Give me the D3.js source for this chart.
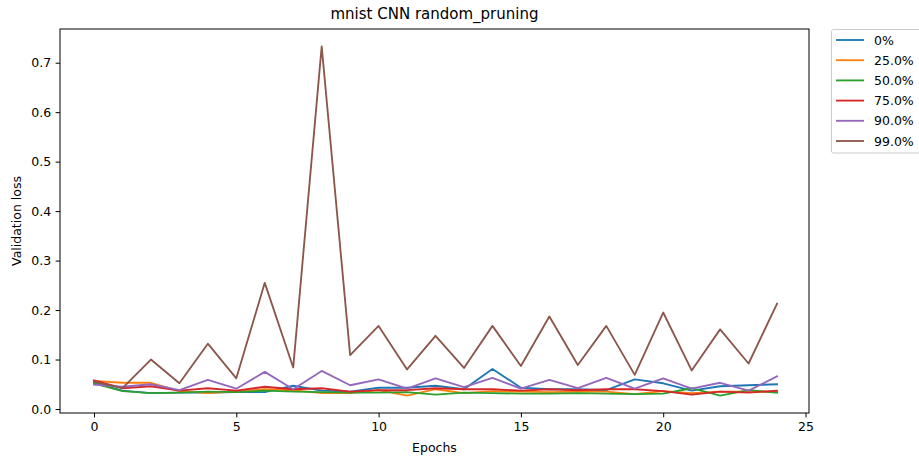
<!DOCTYPE html>
<html>
<head>
<meta charset="utf-8">
<script src="https://cdn.jsdelivr.net/npm/d3@7"></script>
<style>
  body { margin: 0; background: #fff; }
  svg { display: block; font-family: "DejaVu Sans", sans-serif; }
</style>
</head>
<body>
<svg id="chart" width="919" height="458"></svg>
<script>
const epochs = d3.range(25);
const seriesNames = ["0%", "25.0%", "50.0%", "75.0%", "90.0%", "99.0%"];
const seriesColors = ["#1f77b4", "#ff7f0e", "#2ca02c", "#d62728", "#9467bd", "#8c564b"];

const loss0 = [0.053, 0.037, 0.032, 0.033, 0.033, 0.034, 0.034, 0.047, 0.037, 0.035, 0.043, 0.043, 0.047, 0.040, 0.081, 0.043, 0.040, 0.040, 0.038, 0.060, 0.052, 0.037, 0.046, 0.048, 0.050];
const loss25 = [0.057, 0.053, 0.053, 0.036, 0.032, 0.035, 0.040, 0.038, 0.032, 0.032, 0.038, 0.027, 0.040, 0.032, 0.036, 0.035, 0.034, 0.035, 0.035, 0.030, 0.036, 0.032, 0.035, 0.035, 0.035];
const loss50 = [0.052, 0.036, 0.032, 0.033, 0.035, 0.034, 0.037, 0.035, 0.034, 0.033, 0.033, 0.034, 0.029, 0.033, 0.032, 0.031, 0.031, 0.032, 0.031, 0.030, 0.031, 0.042, 0.027, 0.038, 0.033];
const loss75 = [0.058, 0.042, 0.046, 0.037, 0.042, 0.037, 0.045, 0.040, 0.042, 0.035, 0.038, 0.038, 0.042, 0.040, 0.040, 0.037, 0.040, 0.038, 0.040, 0.040, 0.036, 0.029, 0.035, 0.033, 0.037];
const loss90 = [0.049, 0.045, 0.050, 0.038, 0.059, 0.041, 0.075, 0.040, 0.077, 0.048, 0.060, 0.041, 0.062, 0.044, 0.063, 0.041, 0.059, 0.042, 0.063, 0.041, 0.062, 0.041, 0.053, 0.037, 0.066];
const loss99 = [0.055, 0.042, 0.100, 0.052, 0.132, 0.062, 0.255, 0.084, 0.733, 0.109, 0.168, 0.080, 0.148, 0.083, 0.168, 0.087, 0.187, 0.089, 0.168, 0.069, 0.195, 0.078, 0.161, 0.092, 0.213];

const xTicks = [0, 5, 10, 15, 20, 25];
const yTicks = [0.0, 0.1, 0.2, 0.3, 0.4, 0.5, 0.6, 0.7];

const allSeries = [loss0, loss25, loss50, loss75, loss90, loss99];

(function () {
const svg = d3.select("#chart");
const pL = 60, pR = 809, pT = 29, pB = 413;
const fs = 12.5;

const xPer = (805.5 - 94) / 25;
const x = d3.scaleLinear().domain([(pL - 94) / xPer, (pR - 94) / xPer]).range([pL, pR]);
const yPer = (409 - 62.7) / 0.7;
const y = d3.scaleLinear().domain([-(pB - 409) / yPer, (409 - pT) / yPer]).range([pB, pT]);

// lines
const line = d3.line().x((d, i) => x(epochs[i])).y(d => y(d));
const g = svg.append("g");
allSeries.forEach((s, k) => {
  g.append("path")
    .datum(s)
    .attr("d", line)
    .attr("fill", "none")
    .attr("stroke", seriesColors[k])
    .attr("stroke-width", 1.85)
    .attr("stroke-linejoin", "round")
    .attr("stroke-linecap", "square");
});

// frame
svg.append("rect")
  .attr("x", pL).attr("y", pT)
  .attr("width", pR - pL).attr("height", pB - pT)
  .attr("fill", "none").attr("stroke", "#000").attr("stroke-width", 1);

// x axis
const xAxis = d3.axisBottom(x).tickValues(xTicks).tickFormat(d3.format("d")).tickSize(4.4).tickPadding(4.4);
const xg = svg.append("g").attr("transform", `translate(0,${pB})`).call(xAxis);
xg.select(".domain").remove();
xg.selectAll("line").attr("stroke", "#000").attr("stroke-width", 1);
xg.selectAll("text").attr("font-size", fs).attr("fill", "#000").attr("font-family", "DejaVu Sans, sans-serif");

// y axis
const yAxis = d3.axisLeft(y).tickValues(yTicks).tickFormat(d3.format(".1f")).tickSize(4.4).tickPadding(4.4);
const yg = svg.append("g").attr("transform", `translate(${pL},0)`).call(yAxis);
yg.select(".domain").remove();
yg.selectAll("line").attr("stroke", "#000").attr("stroke-width", 1);
yg.selectAll("text").attr("font-size", fs).attr("fill", "#000").attr("font-family", "DejaVu Sans, sans-serif");

// title and labels
svg.append("text").attr("x", (pL + pR) / 2).attr("y", 19)
  .attr("text-anchor", "middle").attr("font-size", 15).attr("fill", "#000")
  .text("mnist CNN random_pruning");
svg.append("text").attr("x", (pL + pR) / 2).attr("y", 452)
  .attr("text-anchor", "middle").attr("font-size", fs).attr("fill", "#000")
  .text("Epochs");
svg.append("text").attr("transform", `translate(21,${(pT + pB) / 2}) rotate(-90)`)
  .attr("text-anchor", "middle").attr("font-size", fs).attr("fill", "#000")
  .text("Validation loss");

// legend
const lg = svg.append("g");
lg.append("rect").attr("x", 831.5).attr("y", 29.5).attr("width", 95).attr("height", 123.5)
  .attr("rx", 2).attr("fill", "#fff").attr("stroke", "#ccc").attr("stroke-width", 1);
seriesNames.forEach((name, k) => {
  const yy = 40 + k * 20.2;
  lg.append("line").attr("x1", 836).attr("x2", 864).attr("y1", yy).attr("y2", yy)
    .attr("stroke", seriesColors[k]).attr("stroke-width", 1.85);
  lg.append("text").attr("x", 874).attr("y", yy + 4.5).attr("font-size", fs).attr("fill", "#000")
    .text(name);
});
})();
</script>
</body>
</html>
